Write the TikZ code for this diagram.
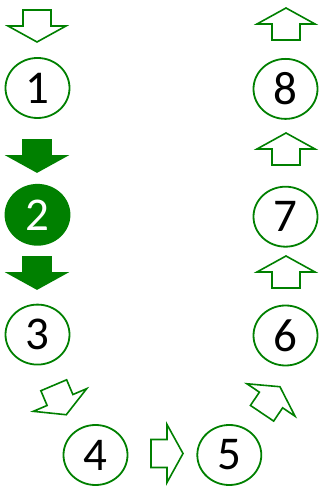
\documentclass[tikz,border=0pt]{standalone}
\usepackage{fontspec}
\setmainfont{Carlito}
\usetikzlibrary{positioning,shapes.geometric}
\definecolor{stepgreen}{RGB}{0,128,0}
\tikzset{
  pics/blkarrow/.style={code={
    \draw[pic actions] (-16,-14) -- (0,-14) -- (0,-29) -- (16,0) -- (0,29) -- (0,14) -- (-16,14) -- cycle;
  }},
  hollowarr/.style={draw=stepgreen, fill=white, line width=1.6pt, line join=miter},
  filledarr/.style={draw=stepgreen, fill=stepgreen, line width=1.6pt}
}

\begin{document}
\begin{tikzpicture}[x=1pt, y=1pt, every node/.style={draw=stepgreen, line width=1.8pt, ellipse, minimum width=64pt, minimum height=60pt, inner sep=0pt, font=\fontsize{47}{50}\selectfont}]
                \useasboundingbox (0,0) rectangle (320,486);
                \node (n1) at (37.5,398) {1};
                \node[below =65pt of n1, fill=stepgreen, text=white] (n2) {2};
                \node[below =58pt of n2] (n3) {3};
                \node (n4) at (95.5,31) {4};
                \node[right =68pt of n4] (n5) {5};
                \node (n6) at (285.5,150.5) {6};
                \node[above =57pt of n6] (n7) {7};
                \node[above =66pt of n7] (n8) {8};
                % block arrows between the steps
                \pic[hollowarr, rotate=-90] at (37,460) {blkarrow};
                \pic[filledarr, rotate=-90] at (37,330) {blkarrow};
                \pic[filledarr, rotate=-90] at (37,213) {blkarrow};
                \pic[hollowarr, rotate=-67] at (60,86) {blkarrow};
                \pic[hollowarr] at (167,32.5) {blkarrow};
                \pic[hollowarr, rotate=56] at (271,86) {blkarrow};
                \foreach \y in {214,337,462}
                    \pic[hollowarr, rotate=90] at (286,\y) {blkarrow};
            \end{tikzpicture}
\end{document}
